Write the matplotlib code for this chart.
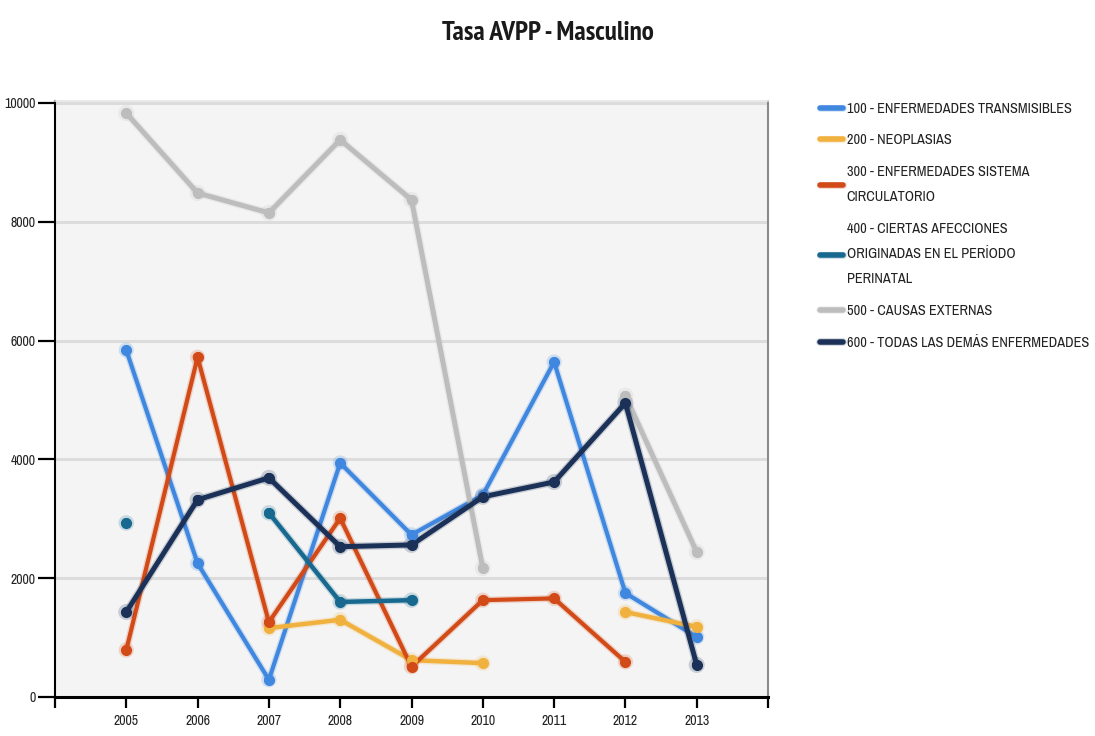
import numpy as np
import matplotlib
matplotlib.use("Agg")
import matplotlib.pyplot as plt
import matplotlib.patheffects as pe
from matplotlib import font_manager
from matplotlib.font_manager import FontProperties

nan = np.nan

years = [2005, 2006, 2007, 2008, 2009, 2010, 2011, 2012, 2013]

transmisibles = [5840, 2250, 290, 3940, 2730, 3400, 5640, 1750, 1010]
neoplasias = [nan, nan, 1160, 1300, 620, 570, nan, 1430, 1180]
circulatorio = [790, 5720, 1260, 3010, 510, 1630, 1660, 590, nan]
perinatal = [2930, nan, 3100, 1600, 1630, nan, nan, nan, nan]
externas = [9830, 8485, 8150, 9380, 8370, 2170, nan, 5070, 2440]
demas = [1430, 3320, 3690, 2530, 2560, 3370, 3620, 4950, 540]

labels = [
    "100 - ENFERMEDADES TRANSMISIBLES",
    "200 - NEOPLASIAS",
    "300 - ENFERMEDADES SISTEMA\nCIRCULATORIO",
    "400 - CIERTAS AFECCIONES\nORIGINADAS EN EL PERÍODO\nPERINATAL",
    "500 - CAUSAS EXTERNAS",
    "600 - TODAS LAS DEMÁS ENFERMEDADES",
]
colors = ["#3f87df", "#f0b13f", "#d24a17", "#17698f", "#bdbdbd", "#1c3158"]
series = [transmisibles, neoplasias, circulatorio, perinatal, externas, demas]
widths = [3.0, 3.2, 3.0, 3.2, 3.6, 3.6]


def _is_bold(w):
    if isinstance(w, str):
        return w in ("bold", "heavy", "black", "demibold", "semibold", "extra bold")
    return w >= 600


def narrow_font(bold):
    """Pick a narrow/condensed face if one is installed, else a plain sans."""
    best = None
    for f in font_manager.fontManager.ttflist:
        narrow = ("Narrow" in f.name or "Condensed" in f.name
                  or f.stretch in ("condensed", "semi-condensed", "extra-condensed"))
        if narrow and f.style == "normal" and _is_bold(f.weight) == bold:
            if "Liberation" in f.name or "Narrow" in f.name:
                return f.fname
            if best is None:
                best = f.fname
    if best:
        return best
    return font_manager.findfont(FontProperties(family="Liberation Sans",
                                                weight="bold" if bold else "normal"))


reg_file = narrow_font(False)
bold_file = narrow_font(True)

fig = plt.figure(figsize=(10.95, 7.36), dpi=100)
ax = fig.add_axes([0.0502, 0.053, 0.6512, 0.8098])
ax.set_facecolor("#f4f4f4")

for vals, col, lw, lab in zip(series, colors, widths, labels):
    y = np.array(vals, dtype=float)
    ax.plot(years, y, color=col, lw=lw, marker="o", ms=6, mec=col, mfc=col,
            label=lab, solid_capstyle="round", zorder=3,
            path_effects=[pe.Stroke(linewidth=lw + 2, foreground=col, alpha=0.2),
                          pe.Normal()])
    ax.plot(years, y, ls="none", marker="o", ms=7, color=col, zorder=4)

ax.set_xlim(2004, 2014)
ax.set_ylim(0, 10034)
ax.set_xticks(range(2004, 2015))
ax.set_xticklabels([""] + [str(y) for y in years] + [""])
ax.set_yticks(range(0, 10001, 2000))
ax.set_yticklabels([str(v) for v in range(0, 10001, 2000)])

ax.grid(axis="y", color="#dcdcdc", lw=2.2, zorder=1)
ax.grid(axis="x", visible=False)
ax.set_axisbelow(True)

ax.spines["top"].set_color("#e6e6e6")
ax.spines["top"].set_linewidth(1.2)
ax.spines["right"].set_color("#8a8a8a")
ax.spines["right"].set_linewidth(1.5)
ax.spines["left"].set_color("black")
ax.spines["left"].set_linewidth(1.5)
ax.spines["bottom"].set_color("black")
ax.spines["bottom"].set_linewidth(2.2)

tick_fp = FontProperties(fname=reg_file, size=10)
ax.tick_params(axis="y", direction="out", length=12, width=1.6, colors="black", pad=2)
ax.tick_params(axis="x", direction="out", length=8, width=1.6, colors="black", pad=4)
for t in ax.get_xticklabels() + ax.get_yticklabels():
    t.set_fontproperties(tick_fp)
    t.set_color("#222222")

fig.text(0.5, 0.955, "Tasa AVPP - Masculino", ha="center", va="center",
         fontproperties=FontProperties(fname=bold_file, size=19.5), color="#1a1a1a")

leg = ax.legend(loc="upper left", bbox_to_anchor=(0.749, 0.862),
                bbox_transform=fig.transFigure, frameon=False,
                prop=FontProperties(fname=reg_file, size=10.3),
                handlelength=1.6, handletextpad=0.25, labelspacing=1.25,
                borderaxespad=0, borderpad=0)
for h in leg.legend_handles:
    h.set_marker("")
    h.set_linewidth(4)
for t in leg.get_texts():
    t.set_color("#222222")
    t.set_linespacing(2.0)

fig.savefig("out.png", dpi=100)
